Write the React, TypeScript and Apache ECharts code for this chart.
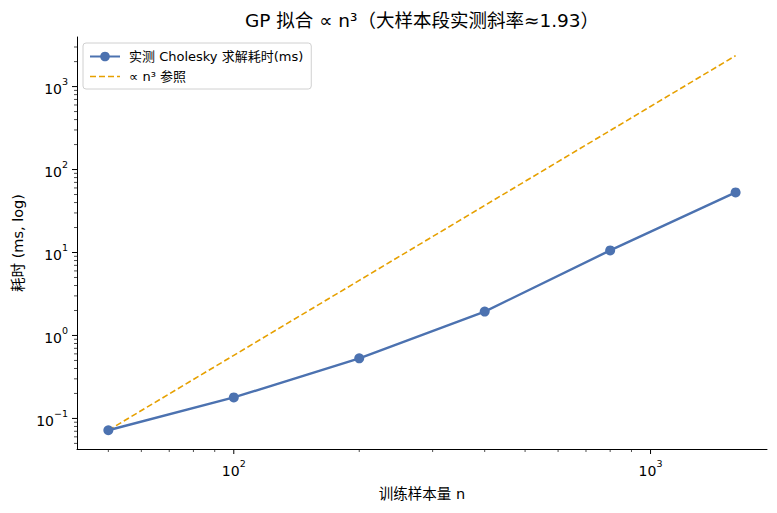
import React, { useEffect, useRef } from "react";
import * as echarts from "echarts";

const N = [50, 100, 200, 400, 800, 1600];
const MEASURED = [0.072, 0.179, 0.53, 1.94, 10.6, 53];
const REF = [0.072, 0.576, 4.61, 36.9, 295, 2360];
const X_MAJOR = [100, 1000];
const X_MINOR = [50, 60, 70, 80, 90, 200, 300, 400, 500, 600, 700, 800, 900];
const Y_MAJOR = [0.1, 1, 10, 100, 1000];
const Y_MINOR = [
  0.05, 0.06, 0.07, 0.08, 0.09, 0.2, 0.3, 0.4, 0.5, 0.6, 0.7, 0.8, 0.9, 2, 3, 4, 5, 6, 7, 8, 9,
  20, 30, 40, 50, 60, 70, 80, 90, 200, 300, 400, 500, 600, 700, 800, 900, 2000, 3000,
];
const X_MIN = 42.05;
const X_MAX = 1903;
const Y_MIN = 0.0428;
const Y_MAX = 3960;

const FONT = "'DejaVu Sans', 'Noto Sans CJK SC', sans-serif";
const BLUE = "#4C72B0";
const ORANGE = "#E6A000";
const NAME_MEASURED = "实测 Cholesky 求解耗时(ms)";
const NAME_REF = "∝ n³ 参照";

function powLabel(v: number) {
  const l = Math.log10(v);
  const e = Math.round(l);
  if (Math.abs(l - e) > 1e-6) return "";
  const s = String(e).replace("-", "−");
  return `{b|10}{s|${s}}`;
}

const richLabel = {
  b: { fontSize: 14, fontFamily: FONT, color: "#000", lineHeight: 19, verticalAlign: "bottom" },
  s: { fontSize: 9.5, fontFamily: FONT, color: "#000", lineHeight: 19, verticalAlign: "top" },
};

export default function App() {
  const ref = useRef<HTMLDivElement>(null);
  useEffect(() => {
    const chart = echarts.init(ref.current!, null, { renderer: "svg" });
    const xTicks = [
      ...X_MAJOR.map((v) => [v, Y_MIN, 5]),
      ...X_MINOR.map((v) => [v, Y_MIN, 3]),
    ];
    const yTicks = [
      ...Y_MAJOR.map((v) => [X_MIN, v, 5]),
      ...Y_MINOR.map((v) => [X_MIN, v, 3]),
    ];
    chart.setOption({
      animation: false,
      backgroundColor: "#fff",
      title: {
        text: "GP 拟合 ∝ n³（大样本段实测斜率≈1.93）",
        left: 417,
        textAlign: "center",
        top: 6,
        textStyle: { fontFamily: FONT, fontSize: 18.5, fontWeight: "normal", color: "#000" },
      },
      legend: {
        data: [
          { name: NAME_MEASURED },
          {
            name: NAME_REF,
            itemStyle: { color: "rgba(0,0,0,0)", borderColor: "rgba(0,0,0,0)", borderWidth: 0, opacity: 0 },
            lineStyle: { color: ORANGE, width: 1.6, type: [6, 3], opacity: 1 },
          },
        ],
        orient: "vertical",
        left: 83,
        top: 43,
        padding: [7, 8, 6, 6],
        itemWidth: 30,
        itemHeight: 12,
        itemGap: 7,
        borderColor: "#d0d0d0",
        borderWidth: 1,
        borderRadius: 3,
        backgroundColor: "rgba(255,255,255,0.85)",
        textStyle: { fontFamily: FONT, fontSize: 13, color: "#000", padding: [0, 0, 0, 4] },
      },
      grid: { left: 77, right: 10, top: 37, bottom: 64, containLabel: false },
      xAxis: {
        type: "log",
        logBase: 10,
        min: X_MIN,
        max: X_MAX,
        name: "训练样本量 n",
        nameLocation: "middle",
        nameGap: 38,
        nameTextStyle: { fontFamily: FONT, fontSize: 14.5, color: "#000" },
        axisLine: { show: true, lineStyle: { color: "#000", width: 1 } },
        axisTick: { show: false },
        splitLine: { show: false },
        minorTick: { show: false },
        axisLabel: {
          margin: 10,
          formatter: (v: number) => powLabel(v),
          rich: richLabel,
          showMinLabel: false,
          showMaxLabel: false,
        },
      },
      yAxis: {
        type: "log",
        logBase: 10,
        min: Y_MIN,
        max: Y_MAX,
        name: "耗时 (ms, log)",
        nameLocation: "middle",
        nameGap: 50,
        nameRotate: 90,
        nameTextStyle: { fontFamily: FONT, fontSize: 14.5, color: "#000" },
        axisLine: { show: true, lineStyle: { color: "#000", width: 1 } },
        axisTick: { show: false },
        splitLine: { show: false },
        minorTick: { show: false },
        axisLabel: {
          margin: 9,
          formatter: (v: number) => powLabel(v),
          rich: richLabel,
          showMinLabel: false,
          showMaxLabel: false,
        },
      },
      series: [
        {
          name: NAME_REF,
          type: "line",
          data: N.map((n, i) => [n, REF[i]]),
          symbol: "none",
          color: ORANGE,
          lineStyle: { color: ORANGE, width: 1.6, type: [6, 3] },
          z: 2,
        },
        {
          name: NAME_MEASURED,
          type: "line",
          data: N.map((n, i) => [n, MEASURED[i]]),
          symbol: "circle",
          symbolSize: 10,
          color: BLUE,
          itemStyle: { color: BLUE },
          lineStyle: { color: BLUE, width: 2.4 },
          z: 3,
        },
        {
          type: "custom",
          clip: false,
          silent: true,
          encode: { x: 0, y: 1 },
          data: xTicks,
          renderItem: (params: any, api: any) => {
            const p = api.coord([api.value(0), api.value(1)]);
            const len = api.value(2);
            return {
              type: "line",
              shape: { x1: p[0], y1: p[1], x2: p[0], y2: p[1] + len },
              style: { stroke: "#000", lineWidth: len > 4 ? 1 : 0.7 },
            };
          },
        },
        {
          type: "custom",
          clip: false,
          silent: true,
          encode: { x: 0, y: 1 },
          data: yTicks,
          renderItem: (params: any, api: any) => {
            const p = api.coord([api.value(0), api.value(1)]);
            const len = api.value(2);
            return {
              type: "line",
              shape: { x1: p[0], y1: p[1], x2: p[0] - len, y2: p[1] },
              style: { stroke: "#000", lineWidth: len > 4 ? 1 : 0.7 },
            };
          },
        },
      ],
    });
    return () => chart.dispose();
  }, []);
  return (
    <div
      ref={ref}
      style={{ position: "fixed", left: 0, top: 0, width: 777, height: 513, background: "#fff" }}
    />
  );
}
